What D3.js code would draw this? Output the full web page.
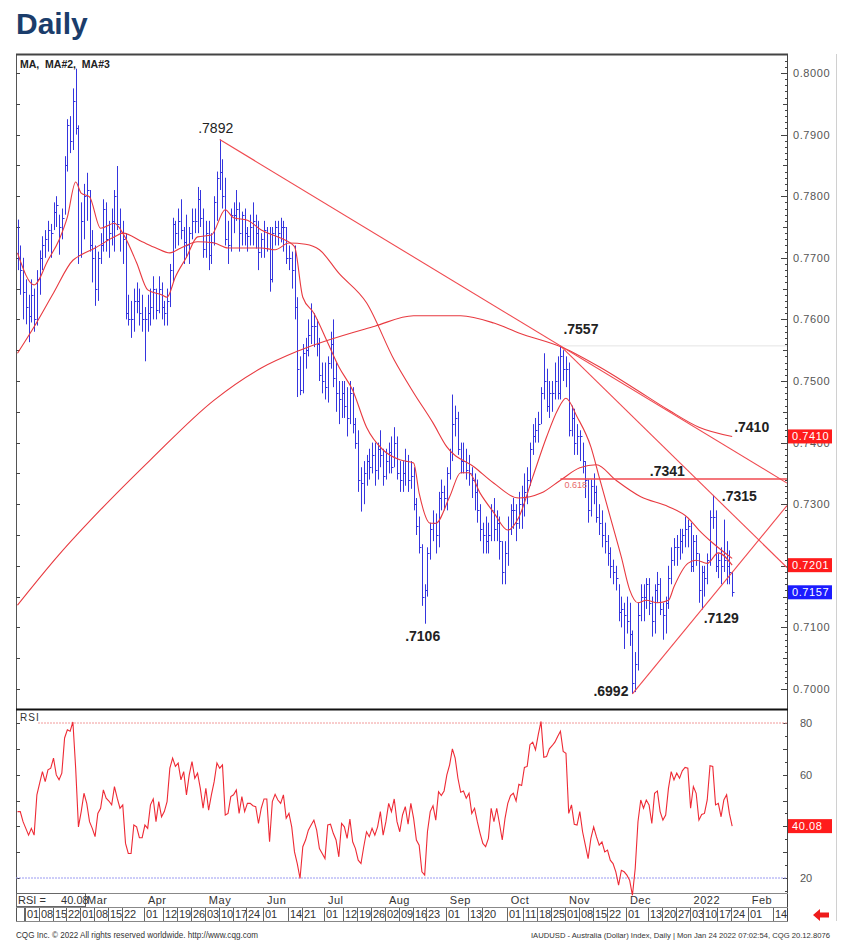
<!DOCTYPE html>
<html><head><meta charset="utf-8">
<script src="https://cdn.jsdelivr.net/npm/d3@7"></script>
<style>body{margin:0;background:#fff}svg{display:block}text{font-family:"Liberation Sans",Arial,sans-serif}</style>
</head><body><svg id="c" width="847" height="947"></svg>
<script>
// ---- DATA (AUDUSD daily, 27 Jan 2021 .. 24 Jan 2022, one row per week) ----
const hi=[
.7762,.7720,.7700,
.7665,.7640,.7665,.7650,.7680,
.7712,.7735,.7745,.7760,.7755,
.7790,.7800,.7770,.7780,.7865,
.7925,.7930,.7975,.8007,.7915,
.7790,.7820,.7838,.7810,.7745,
.7720,.7710,.7740,.7795,.7790,
.7760,.7780,.7810,.7849,.7780,
.7760,.7740,.7640,.7630,.7650,
.7660,.7650,.7640,.7620,.7640,
.7650,.7670,.7650,.7670,.7660,
.7630,.7650,.7690,.7765,.7760,
.7780,.7795,.7750,.7770,.7750,
.7780,.7780,.7815,.7810,.7780,
.7760,.7760,.7740,.7800,.7840,
.7892,.7860,.7830,.7760,.7780,
.7790,.7810,.7790,.7775,.7780,
.7750,.7770,.7790,.7770,.7760,
.7740,.7760,.7750,.7750,.7750,
.7760,.7760,.7765,.7760,.7750,
.7720,.7710,.7720,.7636,.7540,
.7560,.7570,.7600,.7626,.7610,
.7600,.7570,.7530,.7530,.7540,
.7580,.7600,.7530,.7500,.7500,
.7500,.7490,.7500,.7490,.7440,
.7420,.7360,.7370,.7380,.7390,
.7400,.7400,.7400,.7420,.7390,
.7390,.7400,.7410,.7425,.7410,
.7370,.7370,.7390,.7380,.7370,
.7360,.7310,.7280,.7235,.7170,
.7230,.7270,.7290,.7285,.7320,
.7340,.7330,.7360,.7390,.7478,
.7460,.7450,.7400,.7400,.7390,
.7380,.7360,.7350,.7340,.7300,
.7270,.7280,.7270,.7300,.7310,
.7290,.7280,.7240,.7240,.7280,
.7300,.7310,.7300,.7320,.7330,
.7350,.7360,.7400,.7430,.7440,
.7450,.7490,.7545,.7520,.7500,
.7500,.7530,.7540,.7557,.7550,
.7540,.7530,.7460,.7455,.7430,
.7420,.7400,.7370,.7340,.7340,
.7350,.7330,.7300,.7290,.7270,
.7250,.7230,.7210,.7200,.7170,
.7150,.7140,.7150,.7140,.7095,
.7060,.7140,.7170,.7170,.7180,
.7180,.7150,.7170,.7190,.7180,
.7140,.7150,.7200,.7230,.7245,
.7250,.7260,.7260,.7280,.7275,
.7270,.7250,.7250,.7220,.7200,
.7200,.7220,.7290,.7315,.7290,
.7220,.7230,.7275,.7240,.7225,
.7190];
const lo=[
.7680,.7640,.7600,
.7592,.7563,.7595,.7580,.7590,
.7640,.7680,.7700,.7710,.7700,
.7745,.7750,.7705,.7730,.7770,
.7840,.7870,.7875,.7900,.7690,
.7700,.7730,.7760,.7710,.7660,
.7622,.7630,.7690,.7710,.7710,
.7700,.7720,.7710,.7745,.7710,
.7690,.7600,.7590,.7570,.7580,
.7610,.7590,.7580,.7532,.7580,
.7590,.7600,.7600,.7610,.7600,
.7590,.7590,.7620,.7660,.7715,
.7720,.7730,.7690,.7700,.7690,
.7730,.7740,.7740,.7750,.7700,
.7700,.7680,.7690,.7720,.7760,
.7810,.7780,.7720,.7690,.7710,
.7740,.7760,.7710,.7720,.7720,
.7710,.7720,.7720,.7715,.7680,
.7700,.7700,.7710,.7645,.7660,
.7720,.7720,.7725,.7710,.7690,
.7680,.7650,.7600,.7474,.7477,
.7480,.7520,.7540,.7560,.7555,
.7540,.7500,.7480,.7470,.7465,
.7520,.7490,.7450,.7430,.7440,
.7440,.7410,.7430,.7415,.7390,
.7320,.7288,.7300,.7330,.7340,
.7350,.7330,.7340,.7360,.7330,
.7340,.7350,.7350,.7360,.7340,
.7320,.7320,.7330,.7320,.7325,
.7290,.7250,.7220,.7135,.7106,
.7150,.7210,.7240,.7220,.7230,
.7290,.7290,.7290,.7340,.7370,
.7410,.7380,.7350,.7350,.7340,
.7330,.7310,.7290,.7270,.7240,
.7220,.7220,.7220,.7240,.7240,
.7240,.7210,.7170,.7170,.7200,
.7250,.7260,.7240,.7260,.7260,
.7280,.7300,.7330,.7380,.7400,
.7400,.7430,.7470,.7450,.7440,
.7450,.7470,.7470,.7470,.7500,
.7490,.7410,.7410,.7380,.7380,
.7370,.7350,.7310,.7270,.7280,
.7300,.7270,.7250,.7230,.7220,
.7200,.7180,.7170,.7160,.7110,
.7100,.7065,.7090,.7070,.6992,
.6995,.7030,.7110,.7110,.7130,
.7120,.7085,.7090,.7140,.7120,
.7080,.7090,.7130,.7170,.7200,
.7200,.7210,.7220,.7230,.7230,
.7190,.7190,.7200,.7140,.7129,
.7150,.7170,.7200,.7260,.7190,
.7180,.7170,.7190,.7170,.7170,
.7150];
const cl=[
.7700,.7680,.7645,
.7620,.7605,.7640,.7600,.7665,
.7700,.7720,.7730,.7745,.7740,
.7775,.7785,.7750,.7765,.7850,
.7915,.7890,.7955,.7910,.7705,
.7760,.7800,.7810,.7720,.7700,
.7650,.7700,.7720,.7780,.7730,
.7740,.7760,.7800,.7755,.7740,
.7730,.7610,.7600,.7600,.7630,
.7630,.7610,.7600,.7600,.7610,
.7620,.7650,.7615,.7650,.7620,
.7610,.7630,.7680,.7755,.7740,
.7760,.7745,.7725,.7720,.7740,
.7760,.7760,.7795,.7765,.7715,
.7740,.7705,.7725,.7790,.7830,
.7840,.7800,.7730,.7720,.7770,
.7770,.7780,.7740,.7770,.7740,
.7735,.7750,.7760,.7740,.7710,
.7730,.7745,.7740,.7665,.7740,
.7750,.7740,.7750,.7750,.7700,
.7700,.7680,.7620,.7520,.7485,
.7545,.7550,.7575,.7590,.7590,
.7560,.7510,.7500,.7490,.7530,
.7560,.7505,.7480,.7470,.7480,
.7460,.7440,.7480,.7430,.7400,
.7340,.7335,.7350,.7370,.7360,
.7380,.7355,.7390,.7380,.7345,
.7370,.7385,.7360,.7400,.7350,
.7340,.7350,.7370,.7340,.7345,
.7300,.7265,.7230,.7150,.7160,
.7220,.7260,.7270,.7250,.7310,
.7320,.7310,.7350,.7385,.7430,
.7440,.7390,.7370,.7370,.7355,
.7350,.7340,.7320,.7290,.7260,
.7250,.7240,.7250,.7290,.7260,
.7270,.7240,.7190,.7220,.7260,
.7290,.7290,.7270,.7300,.7300,
.7320,.7340,.7390,.7410,.7420,
.7430,.7480,.7500,.7460,.7480,
.7480,.7500,.7480,.7540,.7520,
.7520,.7420,.7440,.7400,.7410,
.7410,.7370,.7340,.7290,.7330,
.7320,.7280,.7270,.7250,.7240,
.7220,.7200,.7190,.7180,.7125,
.7130,.7120,.7110,.7090,.7010,
.7040,.7120,.7150,.7150,.7170,
.7140,.7110,.7160,.7170,.7130,
.7120,.7140,.7180,.7210,.7230,
.7230,.7240,.7250,.7260,.7265,
.7200,.7240,.7220,.7160,.7190,
.7180,.7210,.7280,.7280,.7200,
.7210,.7200,.7210,.7200,.7190,
.7157];
const rsi=[
45.7,45.7,41.8,
39.2,36.6,39.2,36.6,52.2,
56.7,61.2,57.3,61.9,62.5,
66.4,59.9,58.0,60.6,74.2,
77.4,76.8,80.4,62.5,39.8,
45.7,52.8,48.9,41.8,39.2,
36.0,45.0,47.0,54.1,50.9,
49.8,48.3,55.4,50.9,47.0,
48.3,33.4,29.5,29.5,40.5,
39.8,35.6,35.6,40.5,39.2,
48.3,50.6,41.8,49.6,43.7,
45.7,49.6,62.5,66.4,63.2,
64.5,58.0,61.2,52.2,59.9,
65.1,58.6,60.6,54.7,47.0,
54.7,46.3,52.2,57.3,64.5,
62.5,63.8,44.4,45.0,51.5,
52.2,54.1,45.0,51.5,45.7,
48.9,48.9,48.0,47.6,41.1,
47.0,50.6,50.6,34.0,49.6,
52.4,50.2,48.9,52.2,43.1,
45.0,39.8,30.1,25.6,19.8,
32.1,34.7,38.5,40.5,42.4,
38.5,31.4,29.5,27.5,40.5,
40.8,37.3,34.7,28.2,41.1,
39.8,35.3,42.8,34.0,31.4,
26.9,25.6,32.1,37.9,36.0,
39.2,36.6,39.8,45.7,36.6,
41.8,48.9,45.7,50.6,41.8,
37.9,44.4,47.6,40.8,48.9,
43.1,34.7,32.7,22.4,21.1,
37.9,45.7,48.0,42.4,53.4,
51.9,53.7,59.9,63.8,70.0,
66.4,58.6,53.2,53.7,50.9,
52.8,45.0,47.0,41.8,37.3,
33.4,32.1,35.3,47.0,41.8,
47.0,41.1,34.7,43.1,48.9,
51.9,52.8,49.8,56.3,55.8,
62.8,63.2,71.6,72.6,69.6,
75.5,80.6,66.7,67.0,70.0,
71.2,72.6,74.8,76.8,69.0,
68.3,45.0,48.3,40.8,40.5,
45.7,37.9,32.7,27.5,35.3,
39.8,36.0,32.7,34.0,30.1,
30.8,26.9,25.6,22.4,17.2,
23.0,22.4,21.1,19.1,13.3,
23.7,41.8,50.2,47.0,50.2,
48.3,41.1,52.8,53.7,45.7,
42.4,44.4,54.7,61.2,58.0,
60.6,58.6,61.5,62.8,62.5,
47.0,55.4,52.8,42.4,44.6,
45.0,50.2,63.5,63.2,48.3,
48.9,43.7,50.2,52.2,45.0,
40.08];
// moving averages, sampled [bar index, value]
const ma1=[[0,.7708],[6,.7656],[11,.7696],[15,.7729],[18,.7766],[21,.7823],[23,.7805],[26,.7799],[30,.7748],[35,.7756],[38,.7740],[43,.7692],[47,.7648],[52,.7640],[54,.7636],[57,.7669],[61,.7701],[65,.7734],[70,.7737],[75,.7778],[78,.7765],[83,.7761],[88,.7745],[95,.7732],[100,.7718],[103,.7636],[107,.7610],[112,.7562],[116,.7523],[121,.7485],[126,.7425],[132,.7388],[138,.7372],[143,.7367],[145,.7318],[149,.7269],[151,.7269],[156,.7312],[160,.7351],[163,.7351],[167,.7318],[172,.7286],[177,.7258],[181,.7279],[186,.7344],[191,.7409],[195,.7453],[198,.7472],[202,.7442],[207,.7393],[210,.7344],[214,.7279],[218,.7214],[221,.7161],[224,.7140],[227,.7144],[231,.7140],[235,.7144],[237,.7166],[242,.7204],[245,.7209],[249,.7204],[253,.7221],[258,.7201]];
const ma2=[[0,.7545],[6,.7588],[13,.7643],[20,.7696],[23,.7705],[28,.7716],[35,.7734],[38,.7740],[45,.7726],[50,.7716],[55,.7708],[59,.7716],[65,.7726],[71,.7724],[76,.7716],[83,.7716],[88,.7716],[93,.7713],[98,.7724],[104,.7722],[109,.7713],[116,.7675],[126,.7627],[136,.7534],[143,.7481],[150,.7432],[155,.7393],[165,.7360],[172,.7334],[181,.7310],[189,.7318],[196,.7339],[203,.7359],[209,.7364],[216,.7339],[225,.7312],[235,.7296],[242,.7278],[246,.7258],[251,.7237],[258,.7212]];
const ma3=[[0,.7136],[15,.7218],[30,.7291],[48,.7372],[71,.7469],[88,.7521],[102,.7550],[129,.7589],[143,.7606],[160,.7606],[172,.7594],[181,.7578],[197,.7554],[210,.7523],[222,.7490],[235,.7453],[246,.7425],[258,.7410]];
const priceTicks=[0.70,0.71,0.72,0.73,0.74,0.75,0.76,0.77,0.78,0.79,0.80];
const rsiTicks=[20,60,80];           // the 40 tick label is hidden under the 40.08 flag
const pivots=[
 {i:73,v:.7892,t:".7892",dx:-4,dy:-7,a:"middle",w:"normal"},
 {i:196,v:.7557,t:".7557",dx:3,dy:-12,a:"start",w:"bold"},
 {i:258,v:.7410,t:".7410",dx:2,dy:-4,a:"start",w:"bold"},
 {i:229,v:.7341,t:".7341",dx:-2,dy:-3,a:"start",w:"bold"},
 {i:251,v:.7315,t:".7315",dx:9,dy:6,a:"start",w:"bold"},
 {i:147,v:.7106,t:".7106",dx:-2,dy:17,a:"middle",w:"bold"},
 {i:247,v:.7129,t:".7129",dx:2,dy:13,a:"start",w:"bold"},
 {i:222,v:.6992,t:".6992",dx:-4,dy:2,a:"end",w:"bold"}];
const monthLabels=[["2021-03-01","Mar"],["2021-04-01","Apr"],["2021-05-03","May"],["2021-06-01","Jun"],["2021-07-01","Jul"],["2021-08-02","Aug"],["2021-09-01","Sep"],["2021-10-01","Oct"],["2021-11-01","Nov"],["2021-12-01","Dec"],["2022-01-03","2022"],["2022-02-01","Feb"]];
const dayLabels=["2021-02-01","2021-02-08","2021-02-15","2021-02-22","2021-03-01","2021-03-08","2021-03-15","2021-03-22","2021-04-01","2021-04-12","2021-04-19","2021-04-26","2021-05-03","2021-05-10","2021-05-17","2021-05-24","2021-06-01","2021-06-14","2021-06-21","2021-07-01","2021-07-12","2021-07-19","2021-07-26","2021-08-02","2021-08-09","2021-08-16","2021-08-23","2021-09-01","2021-09-13","2021-09-20","2021-10-01","2021-10-11","2021-10-18","2021-10-25","2021-11-01","2021-11-08","2021-11-15","2021-11-22","2021-12-01","2021-12-13","2021-12-20","2021-12-27","2022-01-03","2022-01-10","2022-01-17","2022-01-24","2022-02-01","2022-02-14"];

// ---- LAYOUT ----
const L=16,R=787,PT=54,PB=709,RT=711,RB=893;
const svg=d3.select("#c");
const days=[];
for(let d=new Date(2021,0,27);days.length<300;d.setDate(d.getDate()+1)){const w=d.getDay();if(w!==0&&w!==6)days.push(new Date(d));}
const idx=s=>{const [Y,M,D]=s.split("-").map(Number);const t=new Date(Y,M-1,D).getTime();return days.findIndex(d=>d.getTime()===t);};
const x=d3.scaleLinear().domain([0,258]).range([17.5,17.5+258*2.77]);
const y=d3.scaleLinear().domain([0.70,0.80]).range([689,73]);
const yr=d3.scaleLinear().domain([20,80]).range([878,723]);
const iR=x.invert(R);

// title
svg.append("text").attr("x",16).attr("y",34).attr("font-size",30).attr("font-weight","bold").attr("fill","#1b3d6b").text("Daily");

const defs=svg.append("defs");
defs.append("clipPath").attr("id","cp").append("rect").attr("x",L).attr("y",PT+1).attr("width",R-L).attr("height",PB-PT-2);
defs.append("clipPath").attr("id","cr").append("rect").attr("x",L).attr("y",RT).attr("width",R-L).attr("height",RB-RT+4);

// frame
svg.append("line").attr("x1",836.5).attr("x2",836.5).attr("y1",PT).attr("y2",921).attr("stroke","#d0d0d0");
svg.append("line").attr("x1",L+0.5).attr("x2",L+0.5).attr("y1",PT).attr("y2",921).attr("stroke","#555");
svg.append("line").attr("x1",R+0.5).attr("x2",R+0.5).attr("y1",PT).attr("y2",921).attr("stroke","#444");
svg.append("line").attr("x1",L).attr("x2",R+1).attr("y1",PT+0.5).attr("y2",PT+0.5).attr("stroke","#444").attr("stroke-width",2);
svg.append("line").attr("x1",L).attr("x2",R+1).attr("y1",PB+0.5).attr("y2",PB+0.5).attr("stroke","#111").attr("stroke-width",2);
[RB+0.5,907.5,921.5].forEach(v=>svg.append("line").attr("x1",L).attr("x2",R+1).attr("y1",v).attr("y2",v).attr("stroke","#888"));

// price axis ticks
const minor=d3.range(0.700,0.8051,0.001);
minor.forEach(v=>{const r=Math.round(v*1000);const len=r%10===0?6:(r%5===0?4:2);
 const yy=Math.round(y(v))+0.5; if(yy<PT+2||yy>PB-1)return;
 svg.append("line").attr("x1",R-len).attr("x2",R).attr("y1",yy).attr("y2",yy).attr("stroke","#444");
 if(r%5===0) svg.append("line").attr("x1",L).attr("x2",L+4).attr("y1",yy).attr("y2",yy).attr("stroke","#444");});
priceTicks.forEach(v=>svg.append("text").attr("x",793).attr("y",y(v)+4).attr("font-size",11).attr("fill","#555").attr("letter-spacing",0.6).text(v.toFixed(4)));

// RSI axis ticks
d3.range(15,86,5).forEach(v=>{const yy=Math.round(yr(v))+0.5;if(yy<RT+2||yy>RB-1)return;
 svg.append("line").attr("x1",R-(v%10===0?4:2)).attr("x2",R).attr("y1",yy).attr("y2",yy).attr("stroke","#444");
 if(v%10===0) svg.append("line").attr("x1",L).attr("x2",L+4).attr("y1",yy).attr("y2",yy).attr("stroke","#444");});
rsiTicks.forEach(v=>svg.append("text").attr("x",800).attr("y",yr(v)+4).attr("font-size",11).attr("fill","#555").text(v));

// price panel
const gp=svg.append("g").attr("clip-path","url(#cp)");
const lineFor=(i0,v0,i1,v1,iEnd)=>{const s=(v1-v0)/(i1-i0);return [x(i0),y(v0),x(iEnd),y(v0+s*(iEnd-i0))];};
gp.append("line").attr("x1",x(196)).attr("x2",R).attr("y1",y(.7557)).attr("y2",y(.7557)).attr("stroke","#e4e4e4");
const bars=gp.append("g").attr("stroke","#3535de").attr("stroke-width",1);
hi.forEach((h,i)=>{const xx=Math.round(x(i))+0.5;
 bars.append("line").attr("x1",xx).attr("x2",xx).attr("y1",y(h)).attr("y2",y(lo[i]));
 bars.append("line").attr("x1",xx).attr("x2",xx+2).attr("y1",Math.round(y(cl[i]))+0.5).attr("y2",Math.round(y(cl[i]))+0.5);});
const maLine=d3.line().x(d=>x(d[0])).y(d=>y(d[1])).curve(d3.curveMonotoneX);
[ma1,ma2,ma3].forEach(m=>gp.append("path").attr("d",maLine(m)).attr("fill","none").attr("stroke","#e83a40").attr("stroke-width",1.1));
const tl=[lineFor(73,.7892,196,.7557,iR),lineFor(196,.7557,251,.7315,iR),lineFor(222,.6992,247,.7129,iR)];
tl.forEach(c=>gp.append("line").attr("x1",c[0]).attr("y1",c[1]).attr("x2",c[2]).attr("y2",c[3]).attr("stroke","#f04a50").attr("stroke-width",1.1));
gp.append("line").attr("x1",x(196)).attr("x2",R).attr("y1",y(.7341)).attr("y2",y(.7341)).attr("stroke","#f04a50").attr("stroke-width",1.4);
gp.append("text").attr("x",x(196)+4).attr("y",y(.7341)+9).attr("font-size",9).attr("fill","#e86a6a").text("0.618");
pivots.forEach(p=>gp.append("text").attr("x",x(p.i)+p.dx).attr("y",y(p.v)+p.dy).attr("text-anchor",p.a).attr("font-size",14).attr("font-weight",p.w).attr("fill","#222").text(p.t));
svg.append("text").attr("x",20).attr("y",68).attr("font-family","Liberation Mono,monospace").attr("font-size",10.5).attr("font-weight","bold").attr("fill","#222").attr("xml:space","preserve").text("MA,  MA#2,  MA#3");

// price flags
const flag=(v,col,t,yy)=>{svg.append("rect").attr("x",788).attr("y",yy-7).attr("width",44).attr("height",14).attr("fill",col);
 svg.append("text").attr("x",792).attr("y",yy+4).attr("font-size",11).attr("fill","#fff").attr("letter-spacing",0.6).text(t);};
flag(.7410,"#ff1c1c","0.7410",y(.7410));
flag(.7201,"#ff1c1c","0.7201",y(.7201));
flag(.7157,"#1c1cff","0.7157",y(.7157));

// RSI panel
const gr=svg.append("g").attr("clip-path","url(#cr)");
gr.append("line").attr("x1",38).attr("x2",R).attr("y1",yr(80)).attr("y2",yr(80)).attr("stroke","#f29a9a").attr("stroke-dasharray","2,1");
gr.append("line").attr("x1",L).attr("x2",R).attr("y1",yr(20)).attr("y2",yr(20)).attr("stroke","#9a9af2").attr("stroke-dasharray","2,1");
gr.append("path").attr("d",d3.line().x((d,i)=>x(i)).y(d=>yr(d))(rsi)).attr("fill","none").attr("stroke","#ee2a35").attr("stroke-width",1.1);
svg.append("text").attr("x",20).attr("y",721).attr("font-size",10).attr("fill","#333").attr("letter-spacing",1).text("RSI");
flag(40.08,"#ff1c1c","40.08",yr(40.08));

// date axis
monthLabels.forEach(m=>{const xx=Math.max(x(idx(m[0]))+3,87);svg.append("text").attr("x",xx).attr("y",904).attr("font-size",11).attr("fill","#333").attr("letter-spacing",0.5).text(m[1]);});
svg.append("rect").attr("x",L+0.5).attr("y",RB+0.5).attr("width",69).attr("height",13).attr("fill","#fff").attr("stroke","#666");
svg.append("text").attr("x",18).attr("y",904).attr("font-size",11).attr("fill","#333").attr("xml:space","preserve").text("RSI =     40.08");
svg.append("line").attr("x1",L+8.5).attr("x2",L+8.5).attr("y1",908).attr("y2",921).attr("stroke","#666");
dayLabels.forEach(s=>{const xx=Math.round(x(idx(s)))-0.5;
 svg.append("line").attr("x1",xx).attr("x2",xx).attr("y1",908).attr("y2",921).attr("stroke","#666");
 svg.append("text").attr("x",xx+1.5).attr("y",918).attr("font-size",11).attr("fill","#333").text(s.slice(8));});
svg.append("path").attr("d","M813,915 L820,909 L820,912.5 L829,912.5 L829,917.5 L820,917.5 L820,921 Z").attr("fill","#ee1c1c");

// footer
svg.append("text").attr("x",16).attr("y",938).attr("font-size",9).attr("fill","#333").attr("textLength",242).attr("lengthAdjust","spacingAndGlyphs").text("CQG Inc. © 2022 All rights reserved worldwide. http://www.cqg.com");
svg.append("text").attr("x",830).attr("y",938).attr("text-anchor","end").attr("font-size",7.2).attr("fill","#333").attr("textLength",299).attr("lengthAdjust","spacingAndGlyphs").text("IAUDUSD - Australia (Dollar) Index, Daily | Mon Jan 24 2022 07:02:54, CQG 20.12.8076");
</script></body></html>
